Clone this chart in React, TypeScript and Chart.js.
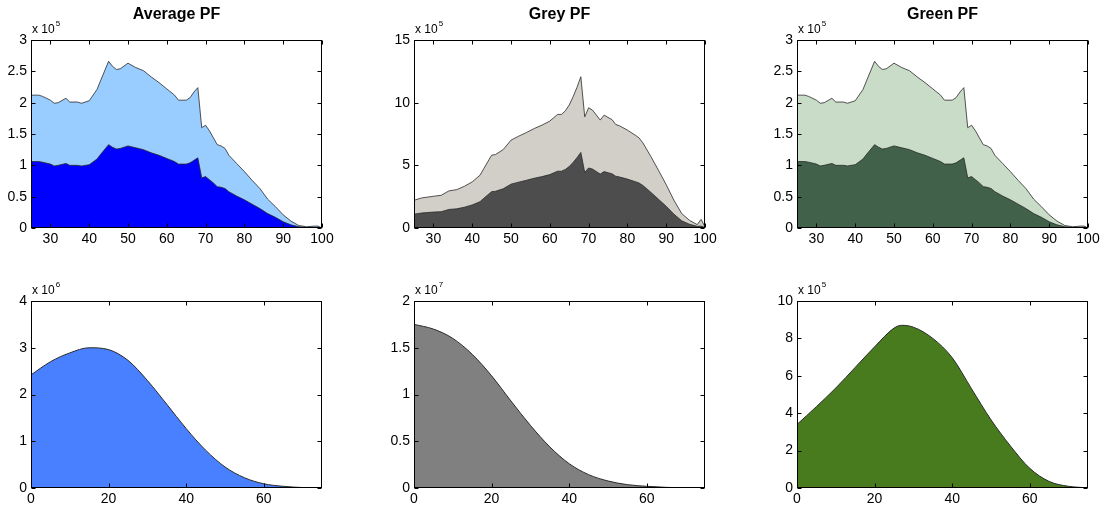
import React, { useEffect, useRef } from "react";
import { Chart, registerables } from "chart.js";

Chart.register(...registerables);

// ---------- DATA ----------
const topXTicks = [30, 40, 50, 60, 70, 80, 90, 100];
const bottomXTicks = [0, 20, 40, 60];

const avgX = [25, 27, 28, 30, 31, 32, 34, 35, 37, 38, 40, 42, 43, 45, 46, 47, 48, 50, 52, 54, 56, 58, 60, 62, 63, 65, 66, 67, 68, 69, 70, 71, 72, 73, 74, 75, 76, 78, 80, 82, 84, 86, 88, 90, 92, 94, 96, 98, 99, 100];
const avgTotal = [2.12, 2.12, 2.10, 2.04, 1.99, 2.00, 2.07, 2.01, 2.01, 1.99, 2.03, 2.21, 2.36, 2.66, 2.58, 2.53, 2.54, 2.63, 2.56, 2.51, 2.41, 2.32, 2.22, 2.12, 2.04, 2.04, 2.08, 2.17, 2.24, 1.60, 1.64, 1.55, 1.44, 1.33, 1.31, 1.27, 1.16, 1.03, 0.90, 0.76, 0.63, 0.46, 0.34, 0.21, 0.11, 0.04, 0.02, 0.03, 0.03, 0.0];
const avgLower = [1.06, 1.06, 1.05, 1.02, 0.99, 1.00, 1.03, 1.00, 1.00, 0.99, 1.01, 1.10, 1.18, 1.33, 1.29, 1.26, 1.27, 1.31, 1.28, 1.25, 1.20, 1.16, 1.11, 1.06, 1.02, 1.02, 1.04, 1.08, 1.12, 0.80, 0.82, 0.77, 0.72, 0.66, 0.65, 0.63, 0.58, 0.51, 0.45, 0.38, 0.31, 0.23, 0.17, 0.10, 0.05, 0.02, 0.01, 0.01, 0.01, 0.0];

const greyX = [25, 27, 30, 32, 34, 36, 38, 40, 42, 43, 45, 46, 48, 50, 52, 54, 56, 58, 60, 62, 63, 64, 65, 66, 67, 68, 69, 70, 71, 72, 73, 74, 75, 76, 77, 78, 80, 82, 83, 84, 86, 88, 90, 92, 94, 96, 98, 99, 100];
const greyTotal = [2.21, 2.40, 2.53, 2.61, 2.96, 3.06, 3.33, 3.68, 4.21, 4.74, 5.81, 5.86, 6.26, 7.01, 7.33, 7.62, 7.94, 8.21, 8.53, 9.06, 9.06, 9.35, 9.81, 10.47, 11.22, 12.07, 8.87, 9.59, 9.41, 9.01, 8.61, 9.01, 8.82, 8.66, 8.26, 8.15, 7.81, 7.41, 7.19, 6.79, 5.73, 4.61, 3.46, 2.21, 1.15, 0.61, 0.27, 0.69, 0.08];
const greyLower = [1.10, 1.20, 1.27, 1.30, 1.48, 1.53, 1.66, 1.84, 2.10, 2.37, 2.90, 2.93, 3.13, 3.50, 3.66, 3.81, 3.97, 4.10, 4.26, 4.53, 4.53, 4.67, 4.90, 5.23, 5.61, 6.03, 4.43, 4.79, 4.70, 4.50, 4.30, 4.50, 4.41, 4.33, 4.13, 4.07, 3.90, 3.70, 3.59, 3.39, 2.86, 2.30, 1.73, 1.10, 0.57, 0.30, 0.13, 0.15, 0.03];

const greenX = [25, 27, 28, 30, 31, 32, 34, 35, 37, 38, 40, 42, 43, 45, 46, 47, 48, 50, 52, 54, 56, 58, 60, 62, 63, 65, 66, 67, 68, 69, 70, 71, 72, 73, 74, 75, 76, 78, 80, 82, 84, 86, 88, 90, 92, 94, 96, 98, 99, 100];
const greenTotal = [2.12, 2.12, 2.10, 2.04, 1.99, 2.00, 2.07, 2.01, 2.01, 1.99, 2.03, 2.21, 2.36, 2.66, 2.58, 2.53, 2.54, 2.63, 2.56, 2.51, 2.41, 2.32, 2.22, 2.12, 2.04, 2.04, 2.08, 2.17, 2.24, 1.60, 1.64, 1.55, 1.44, 1.33, 1.31, 1.27, 1.16, 1.03, 0.90, 0.76, 0.63, 0.46, 0.34, 0.21, 0.11, 0.04, 0.02, 0.03, 0.03, 0.0];
const greenLower = [1.06, 1.06, 1.05, 1.02, 0.99, 1.00, 1.03, 1.00, 1.00, 0.99, 1.01, 1.10, 1.18, 1.33, 1.29, 1.26, 1.27, 1.31, 1.28, 1.25, 1.20, 1.16, 1.11, 1.06, 1.02, 1.02, 1.04, 1.08, 1.12, 0.80, 0.82, 0.77, 0.72, 0.66, 0.65, 0.63, 0.58, 0.51, 0.45, 0.38, 0.31, 0.23, 0.17, 0.10, 0.05, 0.02, 0.01, 0.01, 0.01, 0.0];

const distX = [0, 5, 10, 15, 20, 25, 30, 35, 40, 45, 50, 55, 60, 65, 70, 75];
const blueDist = [2.42, 2.70, 2.89, 3.00, 2.96, 2.73, 2.30, 1.79, 1.27, 0.81, 0.45, 0.22, 0.09, 0.036, 0.01, 0];
const greyDist = [1.75, 1.70, 1.60, 1.43, 1.20, 0.93, 0.67, 0.44, 0.26, 0.143, 0.075, 0.036, 0.018, 0.007, 0.002, 0];
const greenDistX = [0, 5, 10, 15, 20, 25, 27, 30, 35, 40, 45, 50, 55, 60, 65, 70, 75];
const greenDist = [3.40, 4.35, 5.35, 6.45, 7.55, 8.55, 8.70, 8.60, 8.00, 6.97, 5.30, 3.65, 2.25, 1.05, 0.35, 0.09, 0.01];

const yTicksAvg = [0, 0.5, 1, 1.5, 2, 2.5, 3];
const yTicksGrey = [0, 5, 10, 15];
const yTicksGreen = [0, 0.5, 1, 1.5, 2, 2.5, 3];
const yTicksBlueDist = [0, 1, 2, 3, 4];
const yTicksGreyDist = [0, 0.5, 1, 1.5, 2];
const yTicksGreenDist = [0, 2, 4, 6, 8, 10];

// ---------- LAYOUT ----------
const FONT = '"Liberation Sans", Arial, Helvetica, sans-serif';

type Series = { x: number[]; y: number[]; fill: string };
type Panel = {
  title?: string;
  exp: string;
  canvasLeft: number;
  canvasTop: number;
  canvasW: number;
  canvasH: number;
  plotLeft: number;
  plotRight: number;
  plotTop: number;
  plotBottom: number;
  xMin: number;
  xMax: number;
  xTicks: number[];
  yMax: number;
  yTicks: number[];
  series: Series[]; // drawn: first on top
  smooth: boolean;
};

const topRow = { canvasTop: 0, canvasH: 254, plotTop: 40, plotBottom: 228 };
const botRow = { canvasTop: 254, canvasH: 254, plotTop: 301, plotBottom: 488 };
const cols = [
  { canvasLeft: 0, canvasW: 368, plotLeft: 31, plotRight: 322 },
  { canvasLeft: 368, canvasW: 368, plotLeft: 414, plotRight: 705 },
  { canvasLeft: 736, canvasW: 369, plotLeft: 797, plotRight: 1088 },
];

const panels: Panel[] = [
  {
    title: "Average PF", exp: "5", ...topRow, ...cols[0],
    xMin: 25, xMax: 100, xTicks: topXTicks, yMax: 3, yTicks: yTicksAvg, smooth: false,
    series: [
      { x: avgX, y: avgLower, fill: "#0000FF" },
      { x: avgX, y: avgTotal, fill: "#99CCFF" },
    ],
  },
  {
    title: "Grey PF", exp: "5", ...topRow, ...cols[1],
    xMin: 25, xMax: 100, xTicks: topXTicks, yMax: 15, yTicks: yTicksGrey, smooth: false,
    series: [
      { x: greyX, y: greyLower, fill: "#4D4D4D" },
      { x: greyX, y: greyTotal, fill: "#D1CFC7" },
    ],
  },
  {
    title: "Green PF", exp: "5", ...topRow, ...cols[2],
    xMin: 25, xMax: 100, xTicks: topXTicks, yMax: 3, yTicks: yTicksGreen, smooth: false,
    series: [
      { x: greenX, y: greenLower, fill: "#41614A" },
      { x: greenX, y: greenTotal, fill: "#C8DCC8" },
    ],
  },
  {
    exp: "6", ...botRow, ...cols[0],
    xMin: 0, xMax: 75, xTicks: bottomXTicks, yMax: 4, yTicks: yTicksBlueDist, smooth: true,
    series: [{ x: distX, y: blueDist, fill: "#4880FF" }],
  },
  {
    exp: "7", ...botRow, ...cols[1],
    xMin: 0, xMax: 75, xTicks: bottomXTicks, yMax: 2, yTicks: yTicksGreyDist, smooth: true,
    series: [{ x: distX, y: greyDist, fill: "#808080" }],
  },
  {
    exp: "5", ...botRow, ...cols[2],
    xMin: 0, xMax: 75, xTicks: bottomXTicks, yMax: 10, yTicks: yTicksGreenDist, smooth: true,
    series: [{ x: greenDistX, y: greenDist, fill: "#477B1E" }],
  },
];

const framePlugin = {
  id: "frame",
  afterDatasetsDraw(chart: any, _args: any, opts: any) {
    const { ctx, chartArea: a, scales } = chart;
    ctx.save();
    ctx.strokeStyle = "#000";
    ctx.lineWidth = 1;
    const L = Math.round(a.left) + 0.5;
    const R = Math.round(a.right) - 0.5;
    const T = Math.round(a.top) + 0.5;
    const B = Math.round(a.bottom) - 0.5;
    ctx.strokeRect(L, T, R - L, B - T);
    const tl = 4;
    ctx.beginPath();
    for (const v of opts.xTicks) {
      const px = Math.round(scales.x.getPixelForValue(v)) + 0.5;
      ctx.moveTo(px, B);
      ctx.lineTo(px, B - tl);
      ctx.moveTo(px, T);
      ctx.lineTo(px, T + tl);
    }
    for (const v of opts.yTicks) {
      const py = Math.round(scales.y.getPixelForValue(v)) + 0.5;
      ctx.moveTo(L, py);
      ctx.lineTo(L + tl, py);
      ctx.moveTo(R, py);
      ctx.lineTo(R - tl, py);
    }
    ctx.stroke();
    ctx.fillStyle = "#000";
    if (opts.title) {
      ctx.font = `bold 16px ${FONT}`;
      ctx.textAlign = "center";
      ctx.textBaseline = "middle";
      ctx.fillText(opts.title, (a.left + a.right) / 2, a.top - 25);
    }
    ctx.font = `12px ${FONT}`;
    ctx.textAlign = "left";
    ctx.textBaseline = "middle";
    const base = "x 10";
    const bx = a.left + 1;
    ctx.fillText(base, bx, a.top - 10);
    const w = ctx.measureText(base).width;
    ctx.font = `8px ${FONT}`;
    ctx.fillText(opts.exp, bx + w + 1, a.top - 16);
    ctx.restore();
  },
};

function PanelChart({ p }: { p: Panel }) {
  const ref = useRef<HTMLCanvasElement>(null);
  useEffect(() => {
    if (!ref.current) return;
    const yw = p.plotLeft - p.canvasLeft;
    const xh = p.canvasTop + p.canvasH - p.plotBottom;
    const padTop = p.plotTop - p.canvasTop;
    const padRight = p.canvasLeft + p.canvasW - p.plotRight;
    const datasets = p.series.map((s) => ({
      data: s.x.map((xv, i) => ({ x: xv, y: s.y[i] })),
      backgroundColor: s.fill,
      borderColor: "#2a2a2a",
      borderWidth: p.smooth ? 1 : 0.8,
      pointRadius: 0,
      fill: "origin",
      tension: 0,
      cubicInterpolationMode: p.smooth ? "monotone" : "default",
    }));
    const tickFont = { family: FONT, size: 14 };
    const chart = new Chart(ref.current, {
      type: "line",
      data: { datasets } as any,
      plugins: [framePlugin],
      options: {
        responsive: false,
        animation: false,
        events: [],
        layout: { padding: { top: padTop, right: padRight, left: 0, bottom: 0 } },
        plugins: {
          legend: { display: false },
          tooltip: { enabled: false },
          frame: { title: p.title, exp: p.exp, xTicks: p.xTicks, yTicks: p.yTicks },
        } as any,
        scales: {
          x: {
            type: "linear",
            min: p.xMin,
            max: p.xMax,
            grid: { display: false, drawTicks: false },
            border: { display: false },
            afterBuildTicks: (s: any) => {
              s.ticks = p.xTicks.map((v) => ({ value: v }));
            },
            afterFit: (s: any) => {
              s.height = xh;
            },
            ticks: {
              autoSkip: false,
              maxRotation: 0,
              padding: 3,
              color: "#000",
              font: tickFont,
              callback: (v: any) => String(v),
            },
          },
          y: {
            type: "linear",
            min: 0,
            max: p.yMax,
            grid: { display: false, drawTicks: false },
            border: { display: false },
            afterBuildTicks: (s: any) => {
              s.ticks = p.yTicks.map((v) => ({ value: v }));
            },
            afterFit: (s: any) => {
              s.width = yw;
            },
            ticks: {
              autoSkip: false,
              padding: 4,
              color: "#000",
              font: tickFont,
              callback: (v: any) => String(v),
            },
          },
        },
      } as any,
    });
    return () => chart.destroy();
  }, [p]);
  return (
    <canvas
      ref={ref}
      width={p.canvasW}
      height={p.canvasH}
      style={{
        position: "absolute",
        left: p.canvasLeft,
        top: p.canvasTop,
        width: p.canvasW,
        height: p.canvasH,
      }}
    />
  );
}

export default function App() {
  return (
    <div
      style={{
        position: "fixed",
        left: 0,
        top: 0,
        width: 1105,
        height: 508,
        background: "#fff",
        overflow: "hidden",
      }}
    >
      {panels.map((p, i) => (
        <PanelChart key={i} p={p} />
      ))}
    </div>
  );
}
